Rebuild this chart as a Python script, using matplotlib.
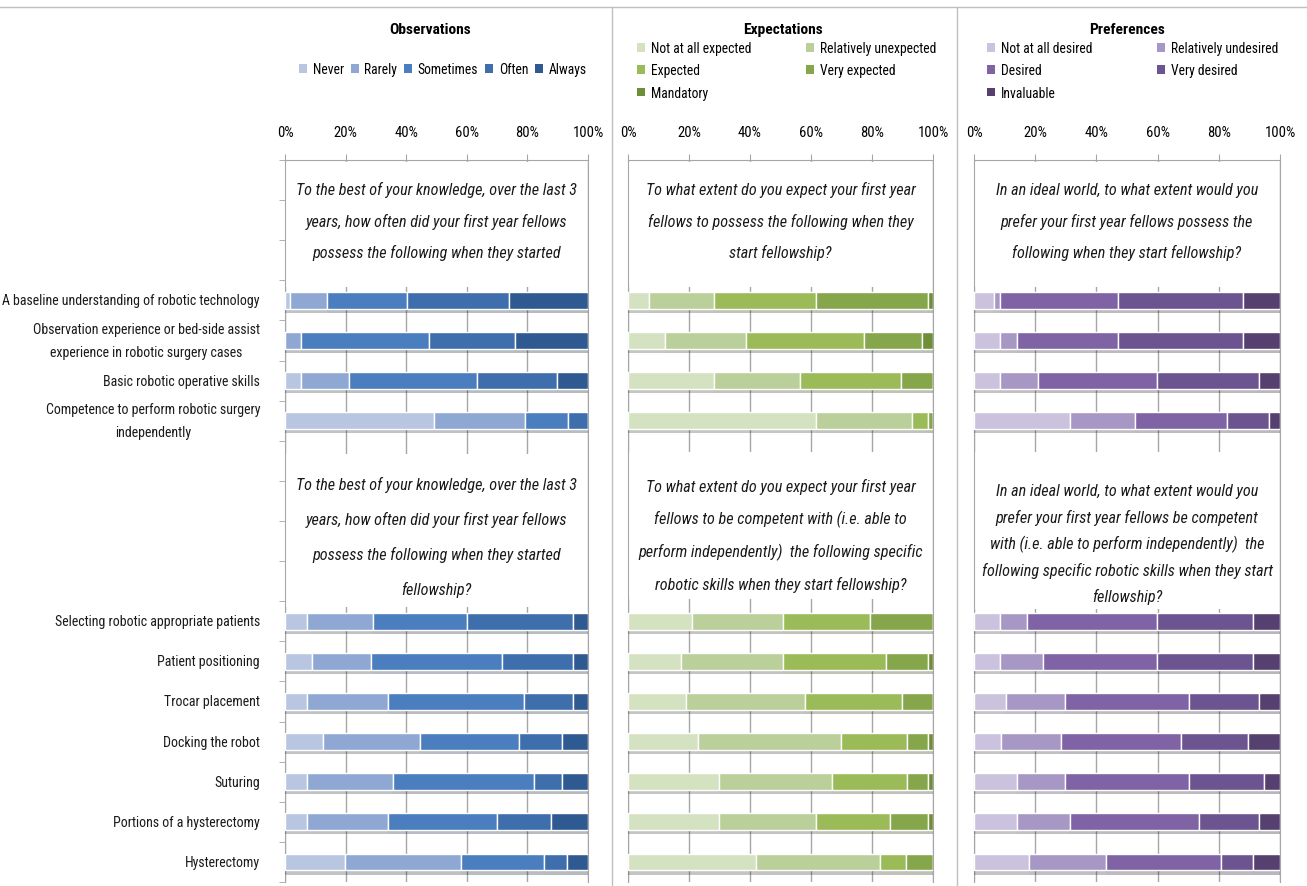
import matplotlib.pyplot as plt
import matplotlib.patheffects as pe
from matplotlib import font_manager as fm
from matplotlib.patches import Rectangle
from matplotlib.lines import Line2D
import numpy as np

# pick the narrowest face that is installed
have = {f.name for f in fm.fontManager.ttflist}
for fam in ['Liberation Sans Narrow', 'Roboto Condensed', 'Noto Sans Condensed', 'Lato', 'Roboto']:
    if fam in have:
        break
plt.rcParams['font.family'] = [fam, 'DejaVu Sans']

# category slots (blank slots sit under the question boxes)
top_items = ["A baseline understanding of robotic technology",
             "Observation experience or bed-side assist\nexperience in robotic surgery cases",
             "Basic robotic operative skills",
             "Competence to perform robotic surgery\nindependently"]
skills = ["Selecting robotic appropriate patients", "Patient positioning", "Trocar placement",
          "Docking the robot", "Suturing", "Portions of a hysterectomy", "Hysterectomy"]
rows = ['', '', ''] + top_items + ['', '', '', ''] + skills

# Observations (%)
obs_names = ['Never', 'Rarely', 'Sometimes', 'Often', 'Always']
obs_never = [1.5, 0, 5.3, 49.3, 7.1, 8.9, 7.1, 12.4, 7.1, 7.1, 19.8]
obs_rarely = [12.5, 5.3, 15.9, 30.0, 22.0, 19.6, 26.9, 32.3, 28.6, 26.9, 38.4]
obs_sometimes = [26.4, 42.2, 42.2, 14.2, 31.0, 43.1, 44.9, 32.4, 46.6, 36.0, 27.4]
obs_often = [33.5, 28.3, 26.3, 6.5, 35.0, 23.4, 16.1, 14.2, 9.0, 17.8, 7.4]
obs_always = [26.1, 24.2, 10.3, 0, 5.0, 5.0, 5.0, 8.7, 8.7, 12.2, 7.0]

# Expectations (%)
exp_names = ['Not at all expected', 'Relatively unexpected', 'Expected', 'Very expected', 'Mandatory']
exp_not = [6.9, 12.0, 28.2, 61.5, 21.1, 17.5, 19.1, 23.0, 29.7, 29.7, 42.1]
exp_relun = [21.3, 26.6, 28.1, 31.7, 29.7, 33.3, 38.8, 46.7, 37.2, 31.8, 40.6]
exp_expected = [33.3, 38.8, 33.3, 5.2, 28.4, 33.7, 31.9, 21.8, 24.6, 24.5, 8.6]
exp_very = [36.9, 19.1, 10.4, 1.6, 20.8, 13.9, 10.2, 6.9, 6.9, 12.4, 8.7]
exp_mand = [1.6, 3.5, 0, 0, 0, 1.6, 0, 1.6, 1.6, 1.6, 0]

# Preferences (%)
pref_names = ['Not at all desired', 'Relatively undesired', 'Desired', 'Very desired', 'Invaluable']
pref_not = [6.5, 8.6, 8.6, 31.5, 8.6, 8.6, 10.6, 8.9, 13.9, 13.9, 17.9]
pref_relun = [2.1, 5.3, 12.3, 21.1, 8.7, 14.0, 19.1, 19.5, 15.8, 17.6, 25.1]
pref_desired = [38.6, 33.3, 38.8, 30.0, 42.4, 37.1, 40.5, 39.4, 40.5, 42.1, 37.6]
pref_very = [40.8, 40.8, 33.5, 13.9, 31.6, 31.6, 23.0, 21.6, 24.7, 19.6, 10.7]
pref_inval = [12.0, 12.0, 6.8, 3.5, 8.7, 8.7, 6.8, 10.6, 5.1, 6.8, 8.7]

obs_q1 = ["To the best of your knowledge, over the last 3", "years, how often did your first year fellows",
          "possess the following when they started"]
obs_q2 = obs_q1 + ["fellowship?"]
exp_q1 = ["To what extent do you expect your first year", "fellows to possess the following when they",
          "start fellowship?"]
exp_q2 = ["To what extent do you expect your first year", "fellows to be competent with (i.e. able to",
          "perform independently)  the following specific", "robotic skills when they start fellowship?"]
pref_q1 = ["In an ideal world, to what extent would you", "prefer your first year fellows possess the",
           "following when they start fellowship?"]
pref_q2 = ["In an ideal world, to what extent would you", "prefer your first year fellows be competent",
           "with (i.e. able to perform independently)  the",
           "following specific robotic skills when they start", "fellowship?"]

blues = ['#B9C6E1', '#8EA8D3', '#4A7EBF', '#3E6EAC', '#2F5A91']
greens = ['#D5E2C1', '#BBCF9A', '#9BBB59', '#85A64A', '#6E8F38']
purples = ['#CBC3DD', '#A797C5', '#8063A5', '#6B5490', '#56406F']

W, H = 1307, 887
fig = plt.figure(figsize=(W / 100, H / 100), dpi=100)
renderer = fig.canvas.get_renderer()


def width_px(text, size, **kw):
    t = fig.text(0, 0, text, fontsize=size, **kw)
    w = t.get_window_extent(renderer).width
    t.remove()
    return w


def fit(text, target, **kw):
    return 10 * target / width_px(text, 10, **kw)


fs_lab = fit("A baseline understanding of robotic technology", 258)
fs_box = fit("To the best of your knowledge, over the last 3", 280, style='italic')
fs_leg = fit("Not at all expected", 100)
fs_tit = fit("Observations", 82, weight='bold')
fs_tick = fs_leg * 1.08


def rect(x0, y0, x1, y1):
    return [x0 / W, 1 - y1 / H, (x1 - x0) / W, (y1 - y0) / H]


Y0, SLOT = 161, 40.1


def py(p):
    # pixel row -> category coordinate
    return (p - Y0) / SLOT - 0.5


ypos = [i for i, r in enumerate(rows) if r]
grey = '#A6A6A6'


def panel(ax, series, colors, boxes):
    left = np.zeros(len(ypos))
    for vals, c in zip(series, colors):
        ax.barh(ypos, vals, left=left, height=0.42, color=c, edgecolor='white',
                linewidth=1, zorder=3,
                path_effects=[pe.SimplePatchShadow(offset=(0, -3), alpha=0.3), pe.Normal()])
        left += np.array(vals)
    ax.set_xlim(0, 100)
    ax.set_ylim(17.5, -0.5)
    ax.set_xticks([0, 20, 40, 60, 80, 100], ['0%', '20%', '40%', '60%', '80%', '100%'])
    ax.xaxis.tick_top()
    ax.tick_params(axis='x', length=4, color=grey, labelsize=fs_tick, pad=11)
    ax.set_axisbelow(True)
    ax.xaxis.grid(True, color=grey, lw=1)
    for s in ['left', 'top', 'right']:
        ax.spines[s].set_color(grey)
    ax.spines['bottom'].set_visible(False)
    ax.set_yticks([])
    for top, bot, first, step, lines in boxes:
        ax.add_patch(Rectangle((0.4, py(top)), 99.2, py(bot) - py(top), facecolor='white',
                               edgecolor='none', zorder=2))
        for k, line in enumerate(lines):
            ax.text(50, py(first + k * step), line, ha='center', va='center', style='italic',
                    fontsize=fs_box, zorder=4, color='#1a1a1a')
    # plain squares for the legend (no shadow)
    return [Rectangle((0, 0), 1, 1, facecolor=c, edgecolor='none') for c in colors]


ax1 = fig.add_axes(rect(285, 161, 588, 883))
ax2 = fig.add_axes(rect(628, 161, 933, 883))
ax3 = fig.add_axes(rect(974, 161, 1280, 883))

h1 = panel(ax1, [obs_never, obs_rarely, obs_sometimes, obs_often, obs_always], blues,
           [(163, 288, 190, 31.5, obs_q1), (455, 608, 485, 35, obs_q2)])
h2 = panel(ax2, [exp_not, exp_relun, exp_expected, exp_very, exp_mand], greens,
           [(163, 288, 190, 31.5, exp_q1), (453, 600, 487, 32.7, exp_q2)])
h3 = panel(ax3, [pref_not, pref_relun, pref_desired, pref_very, pref_inval], purples,
           [(163, 288, 190, 31.5, pref_q1), (453, 610, 491, 26.5, pref_q2)])

# category labels on the first panel
ax1.set_yticks(ypos, [rows[i] for i in ypos])
ax1.tick_params(axis='y', length=0, pad=18, labelsize=fs_lab, labelcolor='#1a1a1a')
for lbl in ax1.get_yticklabels():
    lbl.set_multialignment('center')
    lbl.set_verticalalignment('center')
    lbl.set_linespacing(1.8)
ax1.set_yticks(np.arange(-0.5, 18, 1), minor=True)
ax1.tick_params(axis='y', which='minor', length=4, color=grey)

# titles
for x, t in [(430, 'Observations'), (783, 'Expectations'), (1127, 'Preferences')]:
    fig.text(x / W, 1 - 30 / H, t, ha='center', va='center', fontsize=fs_tit, weight='bold')

# legends
em = fs_leg * 100 / 72
leg_kw = dict(frameon=False, fontsize=fs_leg, handlelength=0.6, handleheight=0.6, handletextpad=0.4,
              borderpad=0, borderaxespad=0, labelspacing=0.62)
fig.legend(h1, obs_names, loc='center', bbox_to_anchor=(443 / W, 1 - 70 / H), ncol=5,
           columnspacing=0.5, **leg_kw)
order = [0, 2, 4, 1, 3]
for h, names, x0, x1 in [(h2, exp_names, 637, 806), (h3, pref_names, 987, 1157)]:
    wmax = max(width_px(names[i], fs_leg) for i in (0, 2, 4))
    cs = (x1 - x0 - wmax) / em - 1.0
    fig.legend([h[i] for i in order], [names[i] for i in order], loc='upper left',
               bbox_to_anchor=(x0 / W, 1 - 42 / H), ncol=2, columnspacing=cs, **leg_kw)

# chart borders
fig.add_artist(Line2D([0, 1], [1 - 8 / H, 1 - 8 / H], color='#BFBFBF', lw=1))
for x in [612, 957]:
    fig.add_artist(Line2D([x / W, x / W], [0, 1 - 8 / H], color='#BFBFBF', lw=1))

fig.savefig('out.png', dpi=100)
